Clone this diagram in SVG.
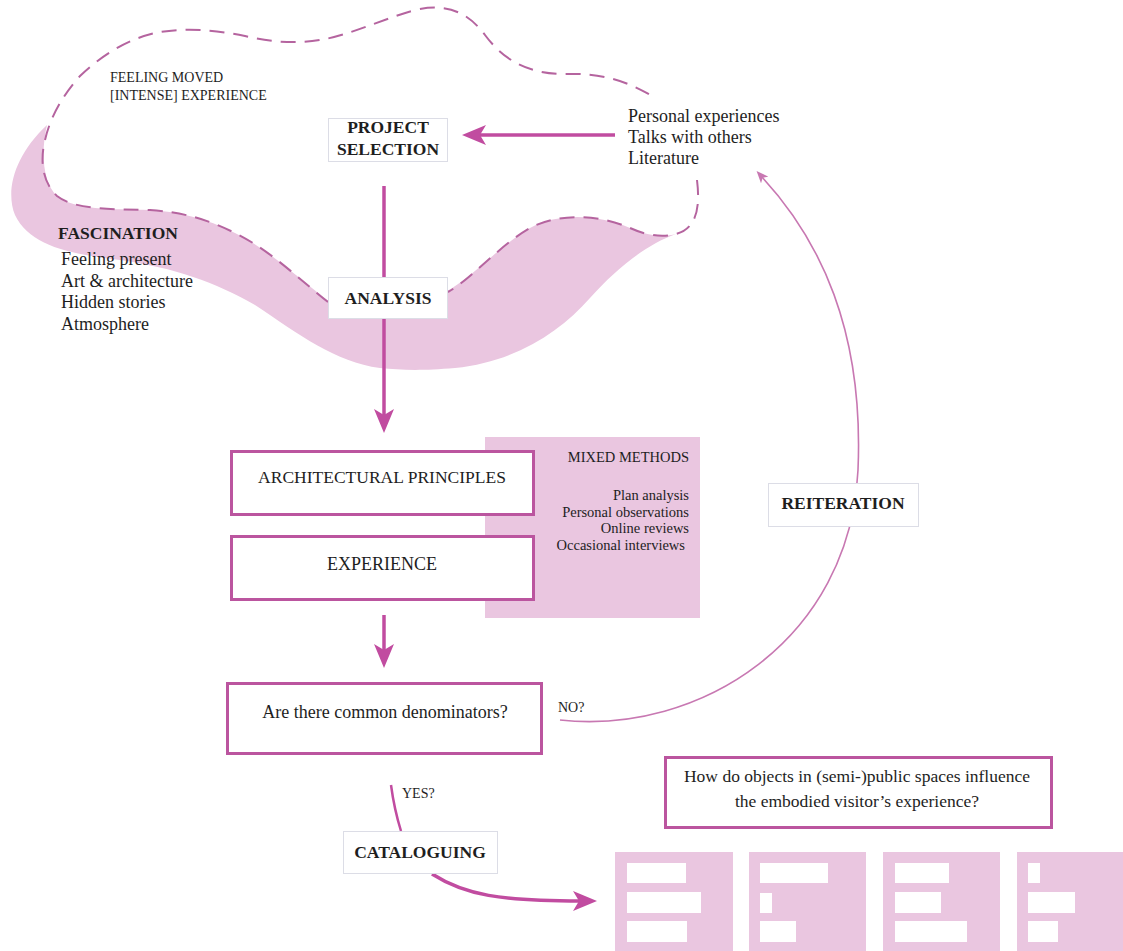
<svg xmlns="http://www.w3.org/2000/svg" width="1123" height="951" viewBox="0 0 1123 951">
<style>
text{font-family:"Liberation Serif","Times New Roman",serif;fill:#1e1e1e}
.b{font-weight:bold;font-size:17.5px}
.r{font-size:18px}
.s{font-size:14px}
.m{font-size:14.5px}
.lbl{fill:#fff;stroke:#dcdde6;stroke-width:1}
.box{fill:#fff;stroke:#bb559f;stroke-width:3}
.pink{fill:#eac6e0}
.bar{fill:#fff}
.thick{fill:none;stroke:#c14ca0;stroke-width:3.5}
.thin{fill:none;stroke:#c878b2;stroke-width:1.6}
.dash{fill:none;stroke:#b5649f;stroke-width:2;stroke-dasharray:15 9}
</style>
<defs>
<marker id="big" viewBox="0 0 24 20" refX="8" refY="10" markerWidth="24" markerHeight="20" markerUnits="userSpaceOnUse" orient="auto">
<path d="M0,0 L24,10 L0,20 L6,10 Z" fill="#c14ca0"/>
</marker>
<marker id="small" viewBox="0 0 12 10" refX="4" refY="5" markerWidth="12" markerHeight="10" markerUnits="userSpaceOnUse" orient="auto">
<path d="M0,0 L12,5 L0,10 L3,5 Z" fill="#c878b2"/>
</marker>
</defs>

<g id="fascination-band">
<path class="pink" d="M47,125 C41,150 42,182 57,196 C75,210 110,209 150,210 C180,212 205,218 235,233 C270,250 300,280 330,302 L445,292 C470,280 500,245 530,228 C560,212 600,215 630,228 C650,237 665,237 676,234 C645,245 615,270 590,298 C560,332 515,362 455,368 C420,371 400,370 380,368 C335,362 300,335 255,305 C215,282 175,268 120,260 C70,254 30,246 15,215 C5,190 15,155 47,125 Z"/>
<path class="dash" d="M328,302 C300,280 270,250 235,233 C205,218 180,212 150,210 C110,209 75,210 57,196 C42,182 40,160 45,140 C50,118 62,96 80,76 C100,57 125,40 155,33 C185,27 215,30 245,36 C270,42 295,44 320,40 C350,35 380,20 415,10 C450,2 470,15 485,35 C505,62 530,74 565,74 C600,73 625,80 652,96"/>
<path class="dash" d="M697,180 C700,205 698,228 676,234 C665,237 650,237 630,228 C600,215 560,212 530,228 C500,245 470,280 448,292"/>
<text class="s" x="110" y="82">FEELING MOVED</text>
<text class="s" x="110" y="100">[INTENSE] EXPERIENCE</text>
<text class="b" x="58" y="239">FASCINATION</text>
<text class="r" x="61" y="265">Feeling present</text>
<text class="r" x="61" y="287">Art &amp; architecture</text>
<text class="r" x="61" y="308">Hidden stories</text>
<text class="r" x="61" y="330">Atmosphere</text>
</g>

<g id="sources">
<text class="r" x="628" y="122">Personal experiences</text>
<text class="r" x="628" y="143">Talks with others</text>
<text class="r" x="628" y="164">Literature</text>
</g>

<g id="mixed-methods">
<rect class="pink" x="485" y="437" width="215" height="181"/>
<g text-anchor="end">
<text class="m" x="689" y="462">MIXED METHODS</text>
<text class="m" x="689" y="500">Plan analysis</text>
<text class="m" x="689" y="517">Personal observations</text>
<text class="m" x="689" y="533">Online reviews</text>
<text class="m" x="685" y="550">Occasional interviews</text>
</g>
</g>

<g id="connectors">
<path class="thick" d="M615,135 L478,135" marker-end="url(#big)"/>
<path class="thick" d="M384,186 L384,277"/>
<path class="thick" d="M384,318 L384,417" marker-end="url(#big)"/>
<path class="thick" d="M384,615 L384,652" marker-end="url(#big)"/>
<path class="thick" d="M391,785 C393,800 396,815 401,831" style="stroke-width:2.5"/>
<path class="thick" d="M432,874 C465,895 500,901 581,901" marker-end="url(#big)"/>
<path class="thin" d="M560,720 C700,735 850,640 858,470 C864,330 820,240 762,177" marker-end="url(#small)"/>
</g>

<g id="project-selection">
<rect class="lbl" x="328.5" y="118.5" width="119" height="43"/>
<text class="b" x="388" y="133" text-anchor="middle">PROJECT</text>
<text class="b" x="388" y="155" text-anchor="middle">SELECTION</text>
</g>

<g id="analysis">
<rect class="lbl" x="328.5" y="277.5" width="119" height="41"/>
<text class="b" x="388" y="304" text-anchor="middle">ANALYSIS</text>
</g>

<g id="architectural-principles">
<rect class="box" x="231.5" y="451.5" width="302" height="63"/>
<text class="r" x="382" y="483" text-anchor="middle" style="font-size:17.5px">ARCHITECTURAL PRINCIPLES</text>
</g>

<g id="experience">
<rect class="box" x="231.5" y="536.5" width="302" height="63"/>
<text class="r" x="382" y="570" text-anchor="middle">EXPERIENCE</text>
</g>

<g id="decision">
<rect class="box" x="227.5" y="683.5" width="314" height="70"/>
<text class="r" x="385" y="718" text-anchor="middle">Are there common denominators?</text>
<text class="s" x="558" y="712">NO?</text>
<text class="s" x="402" y="798">YES?</text>
</g>

<g id="reiteration">
<rect class="lbl" x="768.5" y="483.5" width="150" height="43"/>
<text class="b" x="843" y="509" text-anchor="middle">REITERATION</text>
</g>

<g id="cataloguing">
<rect class="lbl" x="343.5" y="831.5" width="154" height="42"/>
<text class="b" x="420" y="858" text-anchor="middle">CATALOGUING</text>
</g>

<g id="research-question">
<rect class="box" x="665.5" y="757.5" width="386" height="70"/>
<text class="r" x="857" y="782" text-anchor="middle" style="font-size:17.5px">How do objects in (semi-)public spaces influence</text>
<text class="r" x="857" y="807" text-anchor="middle" style="font-size:17.5px">the embodied visitor’s experience?</text>
</g>

<g id="catalogue-cards">
<rect class="pink" x="615" y="852" width="118" height="99"/>
<rect class="bar" x="627" y="863" width="59" height="20"/>
<rect class="bar" x="627" y="892" width="74" height="21"/>
<rect class="bar" x="627" y="921" width="60" height="21"/>
<rect class="pink" x="749" y="852" width="117" height="99"/>
<rect class="bar" x="760" y="863" width="68" height="20"/>
<rect class="bar" x="760" y="893" width="12" height="20"/>
<rect class="bar" x="760" y="921" width="36" height="21"/>
<rect class="pink" x="883" y="852" width="117" height="99"/>
<rect class="bar" x="895" y="863" width="54" height="20"/>
<rect class="bar" x="895" y="892" width="46" height="21"/>
<rect class="bar" x="895" y="921" width="72" height="21"/>
<rect class="pink" x="1017" y="852" width="106" height="99"/>
<rect class="bar" x="1028" y="863" width="12" height="20"/>
<rect class="bar" x="1028" y="892" width="47" height="21"/>
<rect class="bar" x="1028" y="921" width="30" height="21"/>
</g>
</svg>
